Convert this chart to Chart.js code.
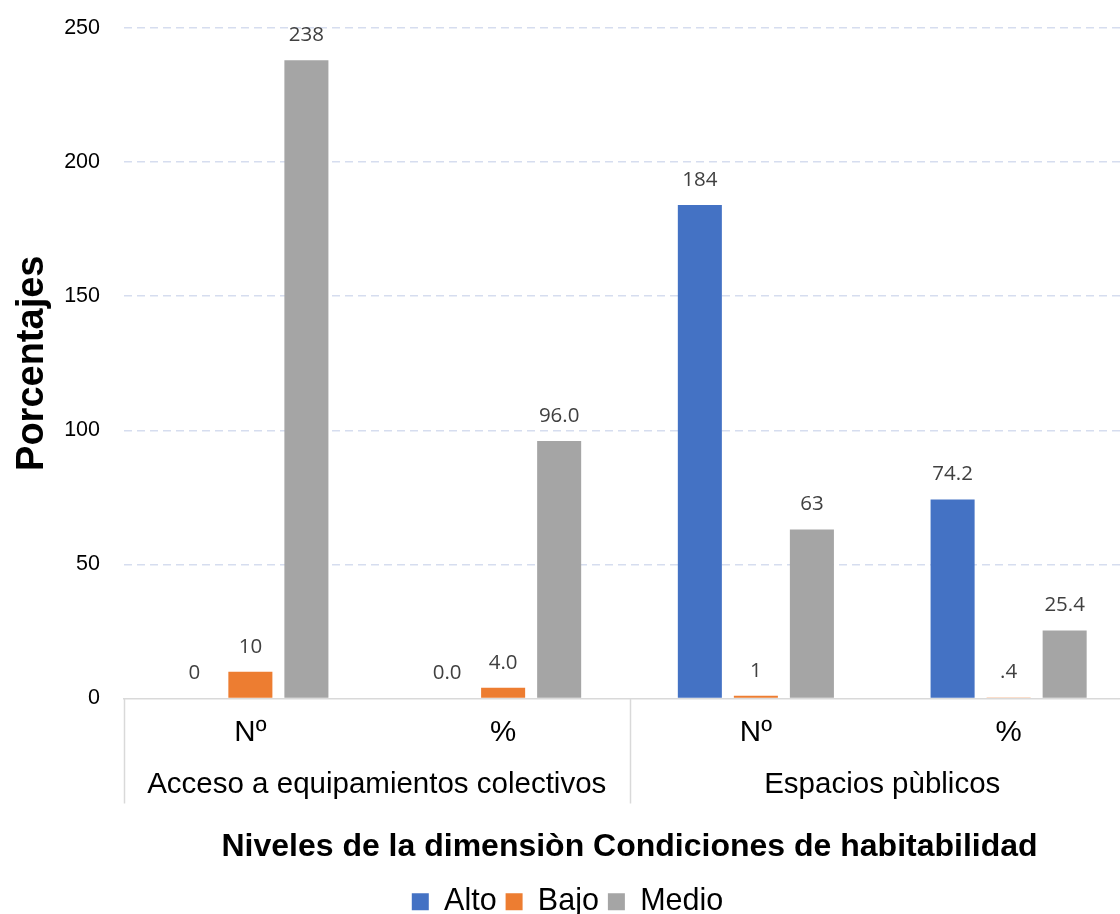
<!DOCTYPE html>
<html>
<head>
<meta charset="utf-8">
<script src="https://cdn.jsdelivr.net/npm/chart.js@4.4.1/dist/chart.umd.min.js"></script>
<style>
  html, body { margin: 0; padding: 0; background: #fff; overflow: hidden; }
  #wrap { width: 1136px; height: 927px; }
</style>
</head>
<body>
<div id="wrap"><canvas id="chart" width="1136" height="927"></canvas></div>
<script>
// categories (second row is the group label)
const categories = ['Nº', '%', 'Nº', '%'];
const groups = ['Acceso a equipamientos colectivos', 'Espacios pùblicos'];
const seriesNames = ['Alto', 'Bajo', 'Medio'];
const alto = [0, 0.0, 184, 74.2];
const bajo = [10, 4.0, 1, 0.4];
const medio = [238, 96.0, 63, 25.4];
const yTicks = [0, 50, 100, 150, 200, 250];

const colors = ['#4472C4', '#ED7D31', '#A5A5A5'];
const AXIS_FONT = "'Liberation Sans', Arial, sans-serif";

const formatValue = (v, idx) => {
    if (idx % 2 === 0) return String(Math.round(v));
    let s = v.toFixed(1);
    if (v > 0 && v < 1) s = s.replace(/^0/, '');
    return s;
};

const valueLabels = {
    id: 'valueLabels',
    afterDatasetsDraw(chart) {
        const { ctx } = chart;
        ctx.save();
        ctx.font = "20.5px 'Open Sans', sans-serif";
        ctx.fillStyle = '#404040';
        ctx.textAlign = 'center';
        ctx.textBaseline = 'middle';
        chart.data.datasets.forEach((ds, di) => {
            const meta = chart.getDatasetMeta(di);
            meta.data.forEach((bar, i) => {
                ctx.fillText(formatValue(ds.data[i], i), bar.x, bar.y - 25);
            });
        });
        ctx.restore();
    },
};

const groupAxis = {
    id: 'groupAxis',
    afterDraw(chart) {
        const { ctx, chartArea } = chart;
        const x = chart.scales.x;
        const top = chartArea.bottom;
        const bottom = top + 105;
        const mid = (x.getPixelForValue(1) + x.getPixelForValue(2)) / 2;
        const edges = [chartArea.left, mid, chartArea.right];
        ctx.save();
        ctx.strokeStyle = '#d9d9d9';
        ctx.lineWidth = 1.5;
        edges.forEach((ex) => {
            ctx.beginPath();
            ctx.moveTo(Math.round(ex) + 0.5, top);
            ctx.lineTo(Math.round(ex) + 0.5, bottom);
            ctx.stroke();
        });
        ctx.font = '29.5px ' + AXIS_FONT;
        ctx.fillStyle = '#000';
        ctx.textAlign = 'center';
        ctx.textBaseline = 'middle';
        ctx.fillText(groups[0], (edges[0] + edges[1]) / 2, top + 86);
        ctx.fillText(groups[1], (edges[1] + edges[2]) / 2, top + 86);
        ctx.restore();
    },
};

new Chart(document.getElementById('chart'), {
    type: 'bar',
    data: {
        labels: categories,
        datasets: [
            { label: seriesNames[0], data: alto, backgroundColor: colors[0] },
            { label: seriesNames[1], data: bajo, backgroundColor: colors[1] },
            { label: seriesNames[2], data: medio, backgroundColor: colors[2] },
        ],
    },
    options: {
        responsive: false,
        animation: false,
        barPercentage: 0.786,
        categoryPercentage: 0.665,
        layout: { padding: { top: 28, left: 0, right: 1, bottom: 0 } },
        plugins: {
            tooltip: { enabled: false },
            legend: {
                position: 'bottom',
                labels: {
                    font: { family: AXIS_FONT, size: 30.5 },
                    color: '#000',
                    boxWidth: 17,
                    boxHeight: 17,
                    padding: 9,
                },
            },
        },
        scales: {
            x: {
                grid: { display: false },
                border: { display: true, color: '#d9d9d9', width: 1.5 },
                ticks: { font: { family: AXIS_FONT, size: 29.5 }, color: '#000', padding: 9, maxRotation: 0 },
                title: {
                    display: true,
                    text: 'Niveles de la dimensiòn Condiciones de habitabilidad',
                    font: { family: AXIS_FONT, size: 32, weight: 'bold' },
                    color: '#000',
                    padding: { top: 0, bottom: 11 },
                },
                afterFit: (scale) => { scale.height = 179; },
            },
            y: {
                min: 0,
                max: 250,
                afterBuildTicks: (scale) => { scale.ticks = yTicks.map((v) => ({ value: v })); },
                grid: {
                    drawTicks: false,
                    color: (c) => (c.tick && c.tick.value === 0 ? 'rgba(0,0,0,0)' : '#d6ddef'),
                    lineWidth: 1.5,
                },
                border: { display: false, dash: [8, 5] },
                ticks: { font: { family: AXIS_FONT, size: 21.5 }, color: '#000', padding: 24 },
                title: {
                    display: true,
                    text: 'Porcentajes',
                    font: { family: AXIS_FONT, size: 38, weight: 'bold' },
                    color: '#000',
                    padding: { top: 10, bottom: 0 },
                },
                afterFit: (scale) => {
                    scale.width = 124;
                    scale.paddingTop = 0;
                    scale.paddingBottom = 0;
                },
            },
        },
    },
    plugins: [valueLabels, groupAxis],
});
</script>
</body>
</html>
